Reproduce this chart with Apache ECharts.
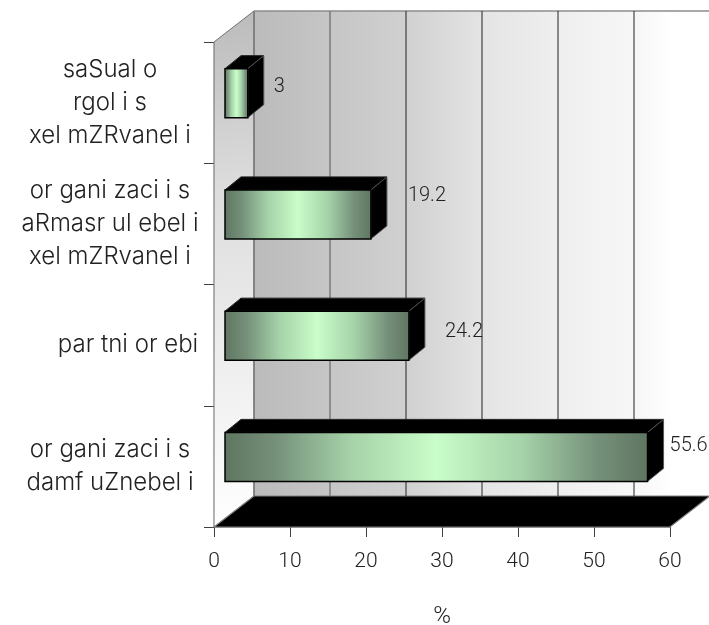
<!DOCTYPE html>
<html><head><meta charset="utf-8">
<style>html,body{margin:0;padding:0;background:#fff}#c{width:709px;height:625px}</style>
<script src="https://cdn.jsdelivr.net/npm/echarts@6/dist/echarts.min.js"></script>
</head><body><div id="c"></div>
<script>
var categories = ['saSual o\nrgol i s\nxel mZRvanel i','or gani zaci i s\naRmasr ul ebel i\nxel mZRvanel i','par tni or ebi','or gani zaci i s\ndamf uZnebel i'];
var values = [3, 19.2, 24.2, 55.6];
var ticks = [0, 10, 20, 30, 40, 50, 60];
var labelNudgeX = [26, 37, 36, 22];
var labelNudgeY = [-6, -18, -4, -11];
var WX = 40, WY = -31, BX = 11, BY = -9.5, DX = 16, DY = -13, BH = 49;
var chart = echarts.init(document.getElementById('c'), null, {renderer:'canvas'});
function poly(pts, style, z2){ return {type:'polygon', shape:{points:pts}, style:style, z2:z2||0}; }
var barGrad = function(){ return new echarts.graphic.LinearGradient(0,0,1,0,[
  {offset:0,color:'#5f7661'},{offset:.12,color:'#75907a'},{offset:.3,color:'#a6d3a9'},{offset:.5,color:'#c9fdc9'},{offset:.7,color:'#a6d3a9'},{offset:.88,color:'#75907a'},{offset:1,color:'#5f7661'}]); };
var option = {
  animation:false,
  backgroundColor:'#fff',
  grid:{left:214,right:39,top:42,bottom:98,outerBoundsMode:'none',containLabel:false},
  xAxis:{type:'value',min:0,max:60,interval:10,splitLine:{show:false},
    axisLine:{show:true,onZero:false,lineStyle:{color:'#808080',width:1.5}},
    axisTick:{show:true,length:10,lineStyle:{color:'#404040'}},
    axisLabel:{margin:24,fontFamily:'Roboto',fontWeight:300,fontSize:21,color:'#222'},
    name:'%',nameLocation:'middle',nameGap:78,nameTextStyle:{fontFamily:'Roboto',fontWeight:300,fontSize:24,color:'#222'}},
  yAxis:{type:'category',inverse:true,data:categories,
    axisLine:{show:true,lineStyle:{color:'#4a4a4a',width:1.2}},
    axisTick:{show:true,length:10,alignWithLabel:false,lineStyle:{color:'#404040'}},
    axisLabel:{margin:104,align:'center',fontFamily:'Inter',fontWeight:300,fontSize:24,lineHeight:33,color:'#222',
      formatter:function(v,i){return i===2?'\u2003\u2002'+v:v;}}},
  series:[
   {type:'custom',clip:false,z:1,data:[0],silent:true,renderItem:function(p,api){
     var r=p.coordSys, x0=r.x,x1=r.x+r.width,y0=r.y,y1=r.y+r.height;
     return {type:'group',children:[
       poly([[x0+WX,y0+WY],[x1+WX,y0+WY],[x1+WX,y1+WY],[x0+WX,y1+WY]],{fill:new echarts.graphic.LinearGradient(0,0,1,0,[{offset:0,color:'#bbbbbb'},{offset:.33,color:'#d0d0d0'},{offset:.5,color:'#e4e4e4'},{offset:.67,color:'#efefef'},{offset:.84,color:'#f7f7f7'},{offset:.92,color:'#ffffff'},{offset:1,color:'#ffffff'}])}),
       poly([[x0,y0],[x0+WX,y0+WY],[x0+WX,y1+WY],[x0,y1]],{fill:new echarts.graphic.LinearGradient(0,0,1,1,[{offset:0,color:'#bbbbbb'},{offset:.35,color:'#dddddd'},{offset:1,color:'#ffffff'}]),stroke:'#707070',lineWidth:1}),
       {type:'line',shape:{x1:x0+WX,y1:y0+WY,x2:x1+WX,y2:y0+WY},style:{stroke:'#8c8c8c',lineWidth:1.5}},
       poly([[x0,y1],[x0+WX,y1+WY],[x1+WX,y1+WY],[x1,y1]],{fill:'#000',stroke:'#808080',lineWidth:1.2},3)
     ]};
   }},
   {type:'custom',clip:false,z:2,data:ticks.map(function(t){return [t];}),silent:true,encode:{x:0},renderItem:function(p,api){
     var c=api.coord([api.value(0),0]), r=p.coordSys, dim=api.value(0)<=10;
     return {type:'line',shape:{x1:c[0]+WX,y1:r.y+WY,x2:c[0]+WX,y2:r.y+r.height+WY},style:{stroke:dim?'#7a7a7a':'#222222',lineWidth:dim?1.5:1}};
   }},
   {type:'custom',clip:false,z:3,data:values.map(function(v,i){return [v,i];}),encode:{x:0,y:1},renderItem:function(p,api){
     var v=api.value(0),i=api.value(1),s=api.coord([0,i]),e=api.coord([v,i]);
     var xa=s[0]+BX,xb=e[0]+BX,cy=s[1]+BY,t=cy-BH/2,b=cy+BH/2;
     return {type:'group',children:[
       poly([[xa,t],[xa+DX,t+DY],[xb+DX,t+DY],[xb,t]],{fill:'#000',stroke:'#222',lineWidth:1}),
       poly([[xb,t],[xb+DX,t+DY],[xb+DX,b+DY],[xb,b]],{fill:'#000',stroke:'#555',lineWidth:1}),
       {type:'rect',shape:{x:xa,y:t,width:xb-xa,height:BH},style:{fill:barGrad(),stroke:'#000',lineWidth:1.5}},
       {type:'text',x:xb+labelNudgeX[i],y:cy+labelNudgeY[i],style:{text:String(v),fill:'#222',fontFamily:'Roboto',fontWeight:300,fontSize:20,verticalAlign:'middle',align:'left'}}
     ]};
   }}
  ]
};
chart.setOption(option);
</script></body></html>
